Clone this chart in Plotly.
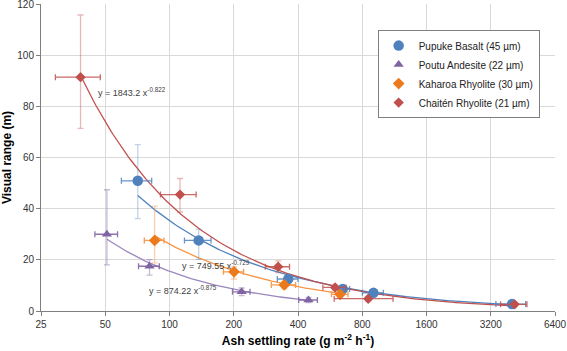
import numpy as np
import plotly.graph_objects as go

# ---------------- data ----------------
series_names = ["Pupuke Basalt (45 µm)", "Poutu Andesite (22 µm)",
                "Kaharoa Rhyolite (30 µm)", "Chaitén Rhyolite (21 µm)"]

pupuke_x = [71, 137, 360, 648, 903, 4023]
pupuke_y = [50.9, 27.6, 12.5, 8.6, 7.1, 2.7]
pupuke_xerr = [11.5, 19.5, 40, 50, 102, 640]
pupuke_yerr_plus = [14.1, 4.3, 1.8, 0.8, 0.8, 0.5]
pupuke_yerr_minus = [14.8, 7.4, 1.8, 0.8, 0.8, 0.5]

poutu_x = [50.9, 80.6, 217.8, 448]
poutu_y = [30.0, 17.5, 7.5, 4.3]
poutu_xerr = [6.2, 9, 20.5, 45]
poutu_yerr_plus = [17.4, 2.6, 1.5, 1.0]
poutu_yerr_minus = [12.0, 3.5, 1.5, 1.0]

kaharoa_x = [85.2, 200.7, 345, 630]
kaharoa_y = [27.6, 15.3, 10.2, 6.5]
kaharoa_xerr = [9, 21.7, 45, 56]
kaharoa_yerr_plus = [13.4, 2.0, 1.5, 1.6]
kaharoa_yerr_minus = [8.8, 2.8, 1.5, 1.6]

chaiten_x = [38.3, 112, 323, 597, 853, 4143]
chaiten_y = [91.4, 45.5, 17.3, 9.2, 4.8, 2.6]
chaiten_xerr = [9.1, 21.3, 42, 74, 262, 585]
chaiten_yerr_plus = [24.3, 6.3, 2.3, 1.0, 0.8, 0.5]
chaiten_yerr_minus = [20.0, 6.8, 2.3, 1.0, 0.8, 0.5]

# power-law trendline coefficients shown on the chart (y = a x^b)
chaiten_fit = (1843.2, -0.822)
kaharoa_fit = (749.55, -0.729)
poutu_fit = (874.22, -0.875)

x_tick_vals = [25, 50, 100, 200, 400, 800, 1600, 3200, 6400]
y_tick_vals = [0, 20, 40, 60, 80, 100, 120]

# ---------------- styles ----------------
FONT = "Liberation Sans, Arial, sans-serif"
styles = [
    dict(color="#4F81BD", symbol="circle", size=10.5,
         ybar="rgba(79,129,189,0.35)", xbar="rgba(79,129,189,0.85)", line="#4F81BD"),
    dict(color="#8064A2", symbol="triangle-up", size=9,
         ybar="rgba(128,100,162,0.45)", xbar="rgba(128,100,162,0.9)", line="#9B86BD"),
    dict(color="#EC7A1C", symbol="diamond", size=9,
         ybar="rgba(247,150,70,0.45)", xbar="rgba(247,150,70,0.95)", line="#F79646"),
    dict(color="#C0504D", symbol="diamond", size=8,
         ybar="rgba(192,80,77,0.4)", xbar="rgba(192,80,77,0.85)", line="#C0504D"),
]

data = [
    (pupuke_x, pupuke_y, pupuke_xerr, pupuke_yerr_plus, pupuke_yerr_minus),
    (poutu_x, poutu_y, poutu_xerr, poutu_yerr_plus, poutu_yerr_minus),
    (kaharoa_x, kaharoa_y, kaharoa_xerr, kaharoa_yerr_plus, kaharoa_yerr_minus),
    (chaiten_x, chaiten_y, chaiten_xerr, chaiten_yerr_plus, chaiten_yerr_minus),
]

# Pupuke trendline: least-squares power fit to its points (as the spreadsheet did)
b_p, lna_p = np.polyfit(np.log(pupuke_x), np.log(pupuke_y), 1)
fits = [(float(np.exp(lna_p)), float(b_p)), poutu_fit, kaharoa_fit, chaiten_fit]

fig = go.Figure()

# trendlines first (under markers)
for (xs, ys, *_), (a, b), st in zip(data, fits, styles):
    xx = np.geomspace(min(xs), max(xs), 200)
    fig.add_trace(go.Scatter(x=xx, y=a * xx ** b, mode="lines",
                             line=dict(color=st["line"], width=1.3),
                             showlegend=False, hoverinfo="skip"))

for i, ((xs, ys, xe, yp, ym), name, st) in enumerate(zip(data, series_names, styles)):
    fig.add_trace(go.Scatter(
        x=xs, y=ys, mode="markers", name=name, legendgroup=str(i),
        marker=dict(color=st["color"], symbol=st["symbol"], size=st["size"], line=dict(width=0)),
        error_x=dict(type="data", array=xe, symmetric=True, color=st["xbar"],
                     thickness=1.3, width=3),
        error_y=dict(type="data", array=yp, arrayminus=ym, symmetric=False,
                     color=st["ybar"], thickness=1.3, width=3),
    ))

eq_font = dict(family=FONT, size=9, color="#404040")
def eq_text(a, b):
    return f"y = {a:g} x<sup>{b:g}</sup>"

fig.add_annotation(text=eq_text(*chaiten_fit), xref="paper", yref="paper",
                   x=0.1075, y=0.712, xanchor="left", yanchor="middle",
                   showarrow=False, font=eq_font)
fig.add_annotation(text=eq_text(*kaharoa_fit), xref="paper", yref="paper",
                   x=0.2695, y=0.1496, xanchor="left", yanchor="middle",
                   showarrow=False, font=eq_font)
fig.add_annotation(text=eq_text(*poutu_fit), xref="paper", yref="paper",
                   x=0.206, y=0.068, xanchor="left", yanchor="middle",
                   showarrow=False, font=eq_font)

fig.update_layout(
    width=567, height=351,
    margin=dict(l=41, r=12, t=4, b=40, autoexpand=False),
    paper_bgcolor="white", plot_bgcolor="white",
    font=dict(family=FONT, size=10, color="#333333"),
    showlegend=True,
    legend=dict(x=0.655, y=0.915, xanchor="left", yanchor="top",
                bgcolor="white", bordercolor="#7F7F7F", borderwidth=1,
                font=dict(family=FONT, size=10, color="#222222"),
                itemwidth=30, tracegroupgap=0),
    xaxis=dict(type="log", range=[np.log10(25), np.log10(6400)],
               tickvals=x_tick_vals, ticktext=[str(v) for v in x_tick_vals],
               showgrid=True, gridcolor="#D9D9D9", gridwidth=1,
               showline=True, linecolor="#7F7F7F", linewidth=1,
               ticks="outside", ticklen=4, tickcolor="#7F7F7F",
               tickfont=dict(family=FONT, size=10, color="#333333"),
               ticklabeloverflow="allow", automargin=False,
               zeroline=False,
               title=dict(text="<b>Ash settling rate (g m<sup>-2</sup> h<sup>-1</sup>)</b>",
                          font=dict(family=FONT, size=12, color="#000000"), standoff=7)),
    yaxis=dict(range=[0, 120], tickvals=y_tick_vals,
               showgrid=True, gridcolor="#D9D9D9", gridwidth=1,
               showline=True, linecolor="#7F7F7F", linewidth=1,
               ticks="outside", ticklen=4, tickcolor="#7F7F7F",
               tickfont=dict(family=FONT, size=10, color="#333333"),
               ticklabeloverflow="allow", automargin=False,
               zeroline=False,
               title=dict(text="<b>Visual range (m)</b>",
                          font=dict(family=FONT, size=12, color="#000000"), standoff=7)),
)

fig.write_html("out.html", config={"displayModeBar": False},
               post_script="document.body.style.margin='0';document.body.style.padding='0';")
